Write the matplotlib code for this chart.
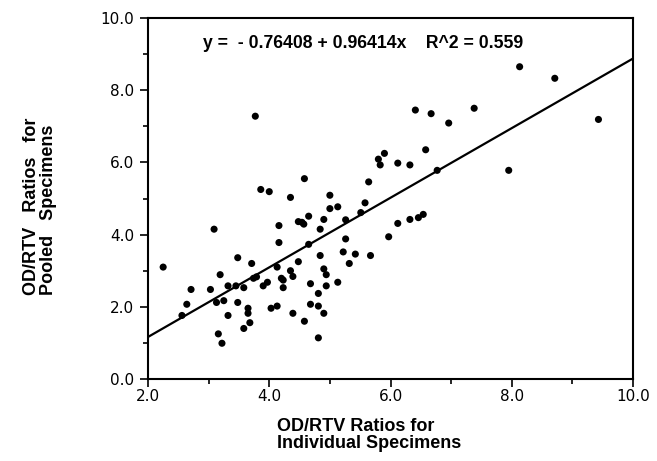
import numpy as np
import matplotlib
matplotlib.use("Agg")
from matplotlib import pyplot as plt
from matplotlib.ticker import MultipleLocator, FormatStrFormatter

# OD/RTV ratios (individual vs pooled specimens)
individual = [2.25, 3.09, 4.16, 4.48, 4.54, 4.57, 4.90, 4.84, 5.26, 6.12,
              5.97, 4.16, 4.65, 5.22, 5.42, 5.67, 5.32, 4.84, 3.48, 3.71,
              4.48, 4.13, 3.19, 4.35, 4.39, 4.90, 4.94, 3.79, 3.74, 4.20,
              4.23, 3.97, 3.90, 4.23, 4.68, 5.13, 4.94, 4.81, 3.32, 3.45,
              3.58, 2.71, 3.03, 3.13, 3.25, 3.48, 2.64, 2.56, 3.32, 3.65,
              3.65, 3.68, 3.58, 4.03, 4.13, 4.68, 4.81, 4.39, 4.90, 4.58,
              3.16, 3.22, 4.81, 3.77, 3.86, 4.00, 4.35, 4.58, 5.00, 5.00,
              5.13, 4.65, 5.26, 5.51, 5.58, 5.64, 5.80, 5.83, 5.90, 6.12,
              6.32, 6.58, 6.77, 7.95, 6.32, 6.46, 6.54, 6.41, 6.67, 7.38,
              6.96, 9.43, 8.13, 8.71]
pooled = [3.10, 4.15, 4.25, 4.36, 4.34, 4.29, 4.42, 4.15, 3.88, 4.31,
          3.94, 3.78, 3.73, 3.52, 3.46, 3.42, 3.20, 3.42, 3.36, 3.20,
          3.25, 3.10, 2.89, 3.00, 2.84, 3.05, 2.89, 2.83, 2.79, 2.79,
          2.74, 2.68, 2.58, 2.53, 2.64, 2.68, 2.58, 2.37, 2.58, 2.58,
          2.53, 2.48, 2.48, 2.12, 2.17, 2.12, 2.07, 1.76, 1.76, 1.96,
          1.82, 1.56, 1.40, 1.96, 2.02, 2.07, 2.02, 1.82, 1.82, 1.60,
          1.25, 0.99, 1.14, 7.28, 5.25, 5.19, 5.03, 5.55, 5.09, 4.72,
          4.77, 4.51, 4.41, 4.61, 4.88, 5.46, 6.09, 5.93, 6.25, 5.98,
          5.93, 6.35, 5.78, 5.78, 4.42, 4.47, 4.56, 7.45, 7.35, 7.50,
          7.09, 7.19, 8.65, 8.33]

intercept = -0.76408
slope = 0.96414
r_squared = 0.559

W, H = 657, 461
fig = plt.figure(figsize=(W / 100, H / 100), dpi=100)
ax = fig.add_axes([148 / W, 1 - 379 / H, (633 - 148) / W, (379 - 18) / H])

ax.scatter(individual, pooled, s=26, color="black", edgecolors="none", zorder=3)

fit_x = np.array([2.0, 10.0])
ax.plot(fit_x, intercept + slope * fit_x, color="black", lw=1.6)

ax.set_xlim(2, 10)
ax.set_ylim(0, 10)
ax.xaxis.set_major_locator(MultipleLocator(2))
ax.xaxis.set_minor_locator(MultipleLocator(1))
ax.yaxis.set_major_locator(MultipleLocator(2))
ax.yaxis.set_minor_locator(MultipleLocator(1))
ax.xaxis.set_major_formatter(FormatStrFormatter("%.1f"))
ax.yaxis.set_major_formatter(FormatStrFormatter("%.1f"))

for s in ax.spines.values():
    s.set_linewidth(1.5)
ax.tick_params(which="major", direction="out", length=5.5, width=1.2,
               labelsize=11)
ax.tick_params(which="minor", direction="out", length=3.5, width=1.2)
ax.tick_params(axis="x", which="major", pad=1.5)
ax.tick_params(axis="y", which="major", pad=4.5)
for lab in ax.get_xticklabels() + ax.get_yticklabels():
    lab.set_fontfamily("DejaVu Sans")

bold = dict(fontfamily="Liberation Sans", fontweight="bold", fontsize=13)
ax.text(2.91, 9.3,
        "y =  - %.5f + %.5fx    R^2 = %.3f" % (-intercept, slope, r_squared),
        ha="left", va="center", fontfamily="Liberation Sans",
        fontweight="bold", fontsize=12.7)

fig.text(277 / W, 1 - 435 / H, "OD/RTV Ratios for\nIndividual Specimens",
         ha="left", va="center", linespacing=1.05, **bold)
fig.text(40 / W, 1 - 295 / H, "OD/RTV   Ratios   for\nPooled   Specimens",
         ha="center", va="bottom", rotation=90, linespacing=1.0,
         multialignment="left", **bold)

fig.savefig("out.png", dpi=100)
